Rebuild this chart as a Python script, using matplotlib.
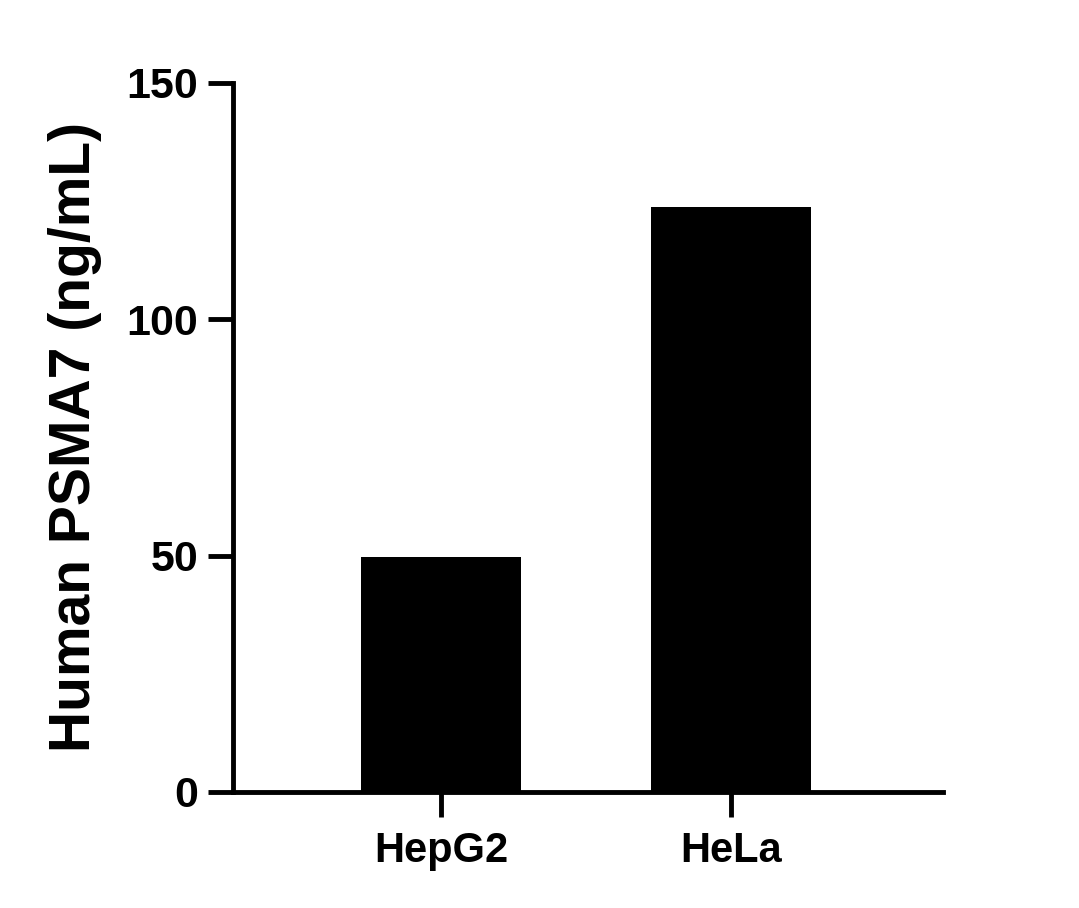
import matplotlib
matplotlib.use("Agg")
import matplotlib.pyplot as plt

cell_lines = ["HepG2", "HeLa"]
psma7_ng_ml = [49.7, 123.8]

y_ticks = [0, 50, 100, 150]

plt.rcParams["font.family"] = ["Liberation Sans", "DejaVu Sans"]
plt.rcParams["font.weight"] = "bold"

fig = plt.figure(figsize=(10.79, 9.08), dpi=100)
ax = fig.add_axes([0.216, 0.1278, 0.658, 0.781])

x = range(len(cell_lines))
ax.bar(x, psma7_ng_ml, width=0.55, color="black")

ax.set_xlim(-0.717, 1.731)
ax.set_ylim(0, 150)
ax.set_yticks(y_ticks)
ax.set_xticks(list(x))
ax.set_xticklabels(cell_lines, fontsize=30, fontweight="bold")
ax.set_yticklabels([str(t) for t in y_ticks], fontsize=31, fontweight="bold")

for side in ["top", "right"]:
    ax.spines[side].set_visible(False)
for side in ["left", "bottom"]:
    ax.spines[side].set_linewidth(3.5)

ax.tick_params(axis="both", width=3.5, length=18, color="black")
ax.tick_params(axis="y", pad=7)
ax.tick_params(axis="x", pad=10)

ax.set_ylabel("Human PSMA7 (ng/mL)", fontsize=41, fontweight="bold", labelpad=18)

fig.savefig("out.png", dpi=100)
